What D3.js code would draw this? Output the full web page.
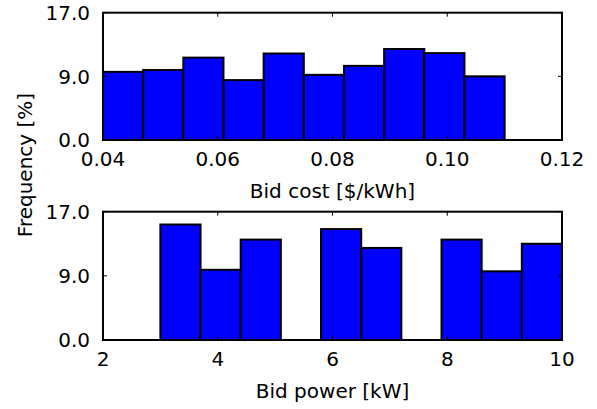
<!DOCTYPE html>
<html>
<head>
<meta charset="utf-8">
<script src="https://cdn.jsdelivr.net/npm/d3@7"></script>
<style>
  body { margin: 0; background: #fff; }
  text { font-family: "DejaVu Sans", sans-serif; font-size: 20px; fill: #000; }
</style>
</head>
<body>
<div id="graph"></div>
<script>
// bid cost histogram: 10 bins of 0.007 $/kWh starting at 0.04
var costEdges = [0.04, 0.047, 0.054, 0.061, 0.068, 0.075, 0.082, 0.089, 0.096, 0.103, 0.11]
var costFreq = [9.1, 9.35, 11.0, 8.0, 11.55, 8.7, 9.9, 12.15, 11.6, 8.5]
var costTicks = [0.04, 0.06, 0.08, 0.10, 0.12]

// bid power histogram: 10 bins of 0.7 kW starting at 3
var powerEdges = [3, 3.7, 4.4, 5.1, 5.8, 6.5, 7.2, 7.9, 8.6, 9.3, 10]
var powerFreq = [15.3, 9.3, 13.3, 0, 14.7, 12.2, 0, 13.3, 9.1, 12.75]
var powerTicks = [2, 4, 6, 8, 10]

// the middle y tick sits halfway up but is labelled 9.0
var yTicks = [0, 8.5, 17]
var yTickLabels = ['0.0', '9.0', '17.0']

var width = 597, height = 409
var svg = d3.select('#graph').append('svg')
  .attr('width', width).attr('height', height)

var left = 103, right = 562

function panel(opts){
  var x = d3.scaleLinear().domain(opts.xDomain).range([left, right])
  var y = d3.scaleLinear().domain([0, 17]).range([opts.bottom, opts.top])
  var g = svg.append('g')

  var bins = opts.freq.map((f, i) => ({x0: opts.edges[i], x1: opts.edges[i + 1], f}))

  g.selectAll('rect.bar').data(bins).join('rect')
    .attr('class', 'bar')
    .attr('x', d => x(d.x0))
    .attr('width', d => x(d.x1) - x(d.x0))
    .attr('y', d => y(d.f))
    .attr('height', d => y(0) - y(d.f))
    .attr('fill', '#0000ff')
    .attr('stroke', '#000')
    .attr('stroke-width', 2)

  // inward ticks on all four sides, matplotlib classic style
  var tl = 4
  var xt = g.append('g')
  xt.selectAll('line.b').data(opts.xTicks).join('line')
    .attr('x1', x).attr('x2', x).attr('y1', y(0)).attr('y2', y(0) - tl)
  xt.selectAll('line.t').data(opts.xTicks).join('line')
    .attr('x1', x).attr('x2', x).attr('y1', y(17)).attr('y2', y(17) + tl)
  xt.selectAll('line.l').data(yTicks).join('line')
    .attr('x1', left).attr('x2', left + tl).attr('y1', y).attr('y2', y)
  xt.selectAll('line.r').data(yTicks).join('line')
    .attr('x1', right).attr('x2', right - tl).attr('y1', y).attr('y2', y)
  xt.selectAll('line').attr('stroke', '#000').attr('stroke-width', 1)

  g.append('rect')
    .attr('x', left).attr('y', opts.top)
    .attr('width', right - left).attr('height', opts.bottom - opts.top)
    .attr('fill', 'none').attr('stroke', '#000').attr('stroke-width', 2)

  g.selectAll('text.xt').data(opts.xTicks).join('text')
    .attr('x', x).attr('y', opts.bottom + 26)
    .attr('text-anchor', 'middle')
    .text(opts.fmt)

  g.selectAll('text.yt').data(yTicks).join('text')
    .attr('x', 90).attr('y', y).attr('dy', '0.36em')
    .attr('text-anchor', 'end')
    .text((d, i) => yTickLabels[i])

  g.append('text')
    .attr('x', (left + right) / 2).attr('y', opts.bottom + 58)
    .attr('text-anchor', 'middle')
    .text(opts.label)
}

panel({
  top: 12.7, bottom: 140,
  xDomain: [0.04, 0.12], xTicks: costTicks, fmt: d3.format('.2f'),
  edges: costEdges, freq: costFreq, label: 'Bid cost [$/kWh]'
})

panel({
  top: 211.7, bottom: 340,
  xDomain: [2, 10], xTicks: powerTicks, fmt: d3.format('d'),
  edges: powerEdges, freq: powerFreq, label: 'Bid power [kW]'
})

svg.append('text')
  .attr('transform', 'translate(32,165) rotate(-90)')
  .attr('text-anchor', 'middle')
  .text('Frequency [%]')
</script>
</body>
</html>
